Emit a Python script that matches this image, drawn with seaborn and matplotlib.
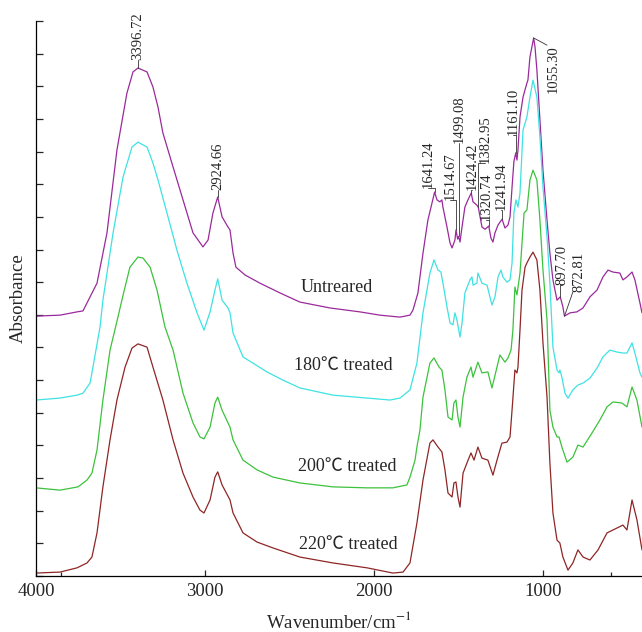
import numpy as np
import pandas as pd
import matplotlib.pyplot as plt
import seaborn as sns

# Spectra (wavenumber in cm-1, absorbance in arbitrary units)
wn_untreated = [4000, 3858, 3757, 3722, 3680, 3639, 3580, 3521, 3462, 3426, 3396.72, 3343, 3308, 3278,
                3249, 3189, 3130, 3071, 3012, 2982, 2953, 2924.66, 2899, 2864, 2852, 2834, 2817, 2763,
                2675, 2556, 2438, 2260, 2083, 1965, 1846, 1787, 1769, 1740, 1710, 1681, 1641.24, 1627,
                1610, 1598, 1592, 1568, 1550, 1538, 1521, 1514.67, 1505, 1499.08, 1491, 1479, 1462, 1444,
                1424.42, 1414, 1391, 1382.95, 1361, 1343, 1320.74, 1308, 1296, 1284, 1266, 1241.94, 1225,
                1207, 1195, 1183, 1172, 1161.10, 1154, 1148, 1136, 1118, 1095, 1089, 1077, 1055.30, 1047,
                1036, 1018, 1000, 976, 959, 941, 917, 897.70, 882, 872.81, 840, 799, 763, 722, 680, 645,
                615, 586, 545, 527, 503, 473, 456, 426, 414]
ab_untreated = [0.796, 0.799, 0.809, 0.812, 0.855, 0.897, 1.051, 1.305, 1.479, 1.544, 1.556, 1.544, 1.498,
                1.436, 1.357, 1.253, 1.152, 1.051, 1.008, 1.029, 1.112, 1.161, 1.100, 1.069, 1.060, 0.989,
                0.946, 0.922, 0.897, 0.867, 0.839, 0.821, 0.809, 0.799, 0.793, 0.799, 0.815, 0.867, 0.989,
                1.090, 1.176, 1.152, 1.146, 1.152, 1.130, 1.069, 1.020, 1.005, 1.029, 1.060, 1.032, 1.040,
                1.023, 1.069, 1.130, 1.152, 1.173, 1.146, 1.136, 1.130, 1.069, 1.062, 1.072, 1.035, 1.023,
                1.051, 1.075, 1.093, 1.066, 1.075, 1.100, 1.191, 1.270, 1.296, 1.274, 1.305, 1.406, 1.467,
                1.510, 1.519, 1.590, 1.648, 1.620, 1.550, 1.397, 1.243, 1.090, 0.989, 0.907, 0.845, 0.855,
                0.824, 0.796, 0.806, 0.809, 0.821, 0.855, 0.876, 0.916, 0.937, 0.931, 0.928, 0.907, 0.916,
                0.931, 0.907, 0.836, 0.806]

wn_180 = [4000, 3858, 3757, 3722, 3680, 3663, 3621, 3604, 3544, 3485, 3432, 3396.72, 3343, 3308, 3278,
          3225, 3166, 3107, 3047, 3006, 2970, 2941, 2924.66, 2899, 2864, 2852, 2834, 2775, 2716, 2633,
          2539, 2438, 2243, 2041, 1905, 1846, 1787, 1746, 1710, 1669, 1645, 1621, 1604, 1592, 1568, 1550,
          1533, 1521, 1509, 1491, 1479, 1462, 1432, 1420, 1414, 1391, 1385, 1361, 1331, 1302, 1284, 1266,
          1249, 1237, 1213, 1195, 1183, 1178, 1172, 1160, 1148, 1136, 1118, 1095, 1077, 1059, 1036, 1018,
          1000, 976, 959, 941, 917, 905, 900, 888, 870, 852, 823, 793, 763, 722, 680, 645, 604, 562, 527,
          503, 473, 456, 426, 414]
ab_180 = [0.539, 0.545, 0.554, 0.560, 0.591, 0.640, 0.763, 0.845, 1.051, 1.222, 1.314, 1.329, 1.314, 1.265,
          1.213, 1.112, 0.998, 0.897, 0.806, 0.753, 0.809, 0.876, 0.910, 0.845, 0.821, 0.806, 0.744, 0.671,
          0.652, 0.625, 0.600, 0.576, 0.554, 0.545, 0.539, 0.545, 0.570, 0.652, 0.806, 0.928, 0.968, 0.937,
          0.931, 0.897, 0.824, 0.775, 0.769, 0.806, 0.784, 0.732, 0.775, 0.867, 0.907, 0.916, 0.891, 0.897,
          0.928, 0.897, 0.891, 0.830, 0.855, 0.916, 0.937, 0.916, 0.900, 0.907, 0.959, 1.029, 1.112, 1.152,
          1.130, 1.173, 1.366, 1.406, 1.467, 1.519, 1.467, 1.345, 1.191, 1.038, 0.897, 0.701, 0.631, 0.622,
          0.631, 0.609, 0.560, 0.545, 0.570, 0.585, 0.591, 0.606, 0.637, 0.671, 0.692, 0.686, 0.683, 0.683,
          0.714, 0.683, 0.622, 0.609]

wn_200 = [4000, 3858, 3751, 3698, 3669, 3639, 3604, 3562, 3521, 3485, 3444, 3396.72, 3367, 3325, 3284,
          3237, 3189, 3130, 3071, 3030, 3006, 2970, 2941, 2924.66, 2899, 2852, 2834, 2775, 2692, 2598,
          2438, 2243, 2041, 1888, 1805, 1787, 1757, 1746, 1728, 1710, 1669, 1645, 1615, 1598, 1580, 1562,
          1538, 1527, 1515, 1503, 1491, 1473, 1450, 1426, 1414, 1385, 1361, 1326, 1302, 1272, 1255, 1225,
          1207, 1189, 1178, 1166, 1154, 1136, 1112, 1095, 1077, 1059, 1036, 1018, 1000, 976, 959, 941, 917,
          905, 888, 858, 823, 793, 763, 710, 663, 621, 586, 533, 503, 473, 444, 414]
ab_200 = [0.270, 0.263, 0.273, 0.294, 0.315, 0.386, 0.539, 0.692, 0.780, 0.860, 0.946, 0.977, 0.974, 0.946,
          0.876, 0.763, 0.692, 0.560, 0.469, 0.426, 0.420, 0.456, 0.530, 0.548, 0.508, 0.456, 0.417, 0.355,
          0.325, 0.303, 0.285, 0.273, 0.270, 0.270, 0.279, 0.303, 0.355, 0.395, 0.447, 0.548, 0.652, 0.668,
          0.640, 0.631, 0.570, 0.487, 0.478, 0.530, 0.539, 0.487, 0.456, 0.548, 0.609, 0.640, 0.609, 0.655,
          0.622, 0.625, 0.576, 0.640, 0.677, 0.655, 0.668, 0.692, 0.753, 0.885, 0.861, 0.928, 1.112, 1.121,
          1.213, 1.243, 1.213, 1.090, 0.937, 0.784, 0.508, 0.456, 0.426, 0.426, 0.395, 0.349, 0.364, 0.401,
          0.395, 0.438, 0.478, 0.518, 0.533, 0.530, 0.518, 0.579, 0.539, 0.456]

wn_220 = [4000, 3858, 3757, 3698, 3669, 3639, 3604, 3562, 3521, 3473, 3432, 3396.72, 3343, 3308, 3249,
          3189, 3130, 3071, 3030, 3006, 2970, 2941, 2924.66, 2899, 2852, 2834, 2775, 2692, 2598, 2438,
          2243, 2041, 1888, 1828, 1787, 1746, 1710, 1669, 1651, 1621, 1598, 1580, 1562, 1538, 1527, 1515,
          1503, 1491, 1473, 1450, 1426, 1408, 1385, 1361, 1326, 1296, 1272, 1243, 1213, 1195, 1183, 1166,
          1154, 1148, 1136, 1124, 1106, 1095, 1077, 1059, 1036, 1018, 1000, 976, 959, 941, 917, 900, 882,
          852, 823, 793, 763, 722, 674, 621, 562, 527, 503, 473, 444, 414]
ab_220 = [0.009, 0.012, 0.025, 0.040, 0.058, 0.132, 0.273, 0.417, 0.539, 0.640, 0.698, 0.711, 0.701, 0.640,
          0.539, 0.417, 0.315, 0.242, 0.202, 0.193, 0.233, 0.303, 0.319, 0.279, 0.233, 0.193, 0.132, 0.104,
          0.086, 0.058, 0.040, 0.025, 0.009, 0.012, 0.040, 0.162, 0.294, 0.407, 0.417, 0.395, 0.380, 0.325,
          0.254, 0.242, 0.285, 0.288, 0.242, 0.211, 0.315, 0.346, 0.377, 0.355, 0.395, 0.361, 0.355, 0.309,
          0.355, 0.407, 0.410, 0.426, 0.508, 0.631, 0.622, 0.640, 0.753, 0.876, 0.946, 0.959, 0.977, 0.992,
          0.968, 0.876, 0.714, 0.548, 0.346, 0.193, 0.110, 0.101, 0.058, 0.018, 0.040, 0.080, 0.058, 0.049,
          0.080, 0.132, 0.147, 0.156, 0.141, 0.233, 0.172, 0.080]

samples = ['Untreared', '180℃ treated', '200℃ treated', '220℃ treated']
colors = ['#9A2A9C', '#3FE2E2', '#3CC23C', '#8E2626']
sample_label_wn = [2219, 2184, 2160, 2154]
sample_label_ab = [0.885, 0.646, 0.334, 0.095]

# peak labels on the untreated spectrum
peak_names = ['3396.72', '2924.66', '1641.24', '1514.67', '1499.08', '1424.42', '1382.95',
              '1320.74', '1241.94', '1161.10', '1055.30', '897.70', '872.81']
peak_wn = [3396.72, 2924.66, 1641.24, 1514.67, 1499.08, 1424.42, 1382.95,
           1320.74, 1241.94, 1161.10, 1055.30, 897.70, 872.81]
peak_ab = [1.556, 1.161, 1.176, 1.060, 1.040, 1.173, 1.130, 1.072, 1.093, 1.296, 1.648, 0.855, 0.796]
text_wn = [3396.72, 2924.66, 1681, 1550, 1497, 1420, 1343, 1335, 1250, 1178, 976, 888, 823]
text_ab = [1.580, 1.182, 1.188, 1.152, 1.326, 1.182, 1.265, 1.090, 1.121, 1.351, 1.626, 0.891, 0.870]

sns.set_theme(style='white')
plt.rcParams['font.family'] = ['Liberation Serif', 'Noto Sans CJK SC', 'DejaVu Serif']
plt.rcParams['mathtext.fontset'] = 'stix'

frames = []
for name, wn, ab in zip(samples, [wn_untreated, wn_180, wn_200, wn_220],
                        [ab_untreated, ab_180, ab_200, ab_220]):
    frames.append(pd.DataFrame({'wavenumber': wn, 'absorbance': ab, 'sample': name}))
df = pd.concat(frames, ignore_index=True)

fig = plt.figure(figsize=(6.42, 6.32), dpi=100)
ax = fig.add_axes([36 / 642, 56 / 632, 606 / 642, 555 / 632])

sns.lineplot(data=df, x='wavenumber', y='absorbance', hue='sample', hue_order=samples,
             palette=colors, sort=False, estimator=None, linewidth=0.9, legend=False, ax=ax)

for name, x, y in zip(samples, sample_label_wn, sample_label_ab):
    ax.text(x, y, name, fontsize=13, ha='center', va='center')

for name, pw, pa, tw, ta in zip(peak_names, peak_wn, peak_ab, text_wn, text_ab):
    if name in ('1055.30', '872.81'):
        ax.plot([pw, tw], [pa, ta], color='#333333', lw=0.6)
        ax.text(tw, ta, name, fontsize=10.5, rotation=90, ha='left',
                va='top' if name == '1055.30' else 'bottom')
    else:
        ax.plot([pw, pw, tw], [pa, ta, ta], color='#333333', lw=0.6)
        ax.text(tw, ta, name, fontsize=10.5, rotation=90, ha='center', va='bottom')

ax.set_xlim(4000, 414)
ax.set_ylim(0, 1.7)
ax.set_xticks([4000, 3000, 2000, 1000])
ax.set_xticks([3850, 600], minor=True)
ax.set_yticks(np.arange(0, 1.71, 0.1))
ax.set_yticklabels([])
ax.tick_params(axis='x', which='major', direction='in', length=4, width=0.9, labelsize=13.5, pad=5,
               bottom=True)
ax.tick_params(axis='x', which='minor', direction='in', length=3, width=0.9, bottom=True)
ax.tick_params(axis='y', direction='in', length=5, width=0.9, left=True)
ax.set_xlabel('Wavenumber/cm$^{-1}$', fontsize=13.5, labelpad=8)
ax.set_ylabel('Absorbance', fontsize=13.5, labelpad=3)
sns.despine(ax=ax)
for s in ['left', 'bottom']:
    ax.spines[s].set_color('black')
    ax.spines[s].set_linewidth(0.9)

fig.savefig('out.png', dpi=100)
